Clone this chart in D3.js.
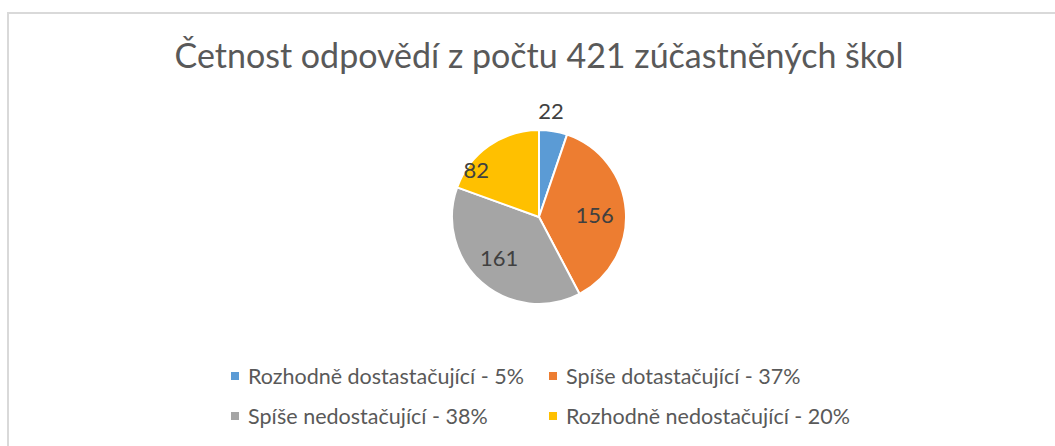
<!DOCTYPE html>
<html>
<head>
<meta charset="utf-8">
<script src="https://cdn.jsdelivr.net/npm/d3@7"></script>
<style>
  body { margin: 0; background: #fff; }
  svg { display: block; font-family: Lato, 'Open Sans', sans-serif; }
</style>
</head>
<body>
<svg></svg>
<script>
// chart data
const title = 'Četnost odpovědí z počtu 421 zúčastněných škol'
const categories = ['Rozhodně dostastačující', 'Spíše dotastačující', 'Spíše nedostačující', 'Rozhodně nedostačující']
const counts = [22, 156, 161, 82]
const percents = ['5%', '37%', '38%', '20%']
const colors = ['#5b9bd5', '#ed7d31', '#a5a5a5', '#ffc000']

const width = 1055
const height = 446
const cx = 539
const cy = 217
const radius = 87

const svg = d3.select('svg')
  .attr('width', width)
  .attr('height', height)

// chart area border (only top and left visible)
svg.append('rect')
  .attr('x', 8)
  .attr('y', 13)
  .attr('width', width + 20)
  .attr('height', height + 20)
  .attr('fill', '#fff')
  .attr('stroke', '#d9d9d9')
  .attr('stroke-width', 2)

svg.append('text')
  .attr('x', cx)
  .attr('y', 68)
  .attr('text-anchor', 'middle')
  .attr('font-size', 34)
  .attr('fill', '#595959')
  .text(title)

const pie = d3.pie().sort(null).value(d => d)
const arcs = pie(counts)
const arc = d3.arc().innerRadius(0).outerRadius(radius)

const g = svg.append('g')
  .attr('transform', 'translate(' + cx + ',' + cy + ')')

g.selectAll('path')
  .data(arcs)
  .enter()
  .append('path')
  .attr('d', arc)
  .attr('fill', (d, i) => colors[i])
  .attr('stroke', '#fff')
  .attr('stroke-width', 2)
  .attr('stroke-linejoin', 'round')

// label placement (roughly like excel "best fit")
const labelRadius = [1.22, 0.64, 0.66, 0.9]
const labelShift = [-0.05, 0.04, 0.05, -0.32] // radians

g.selectAll('text.lbl')
  .data(arcs)
  .enter()
  .append('text')
  .attr('class', 'lbl')
  .attr('x', (d, i) => Math.sin((d.startAngle + d.endAngle) / 2 + labelShift[i]) * radius * labelRadius[i])
  .attr('y', (d, i) => -Math.cos((d.startAngle + d.endAngle) / 2 + labelShift[i]) * radius * labelRadius[i])
  .attr('dy', '0.35em')
  .attr('text-anchor', 'middle')
  .attr('font-size', 22)
  .attr('fill', '#404040')
  .text(d => d.data)

// legend
const legendX = [231, 549]
const legendY = [376, 416]
const legend = svg.selectAll('g.legend')
  .data(categories)
  .enter()
  .append('g')
  .attr('class', 'legend')
  .attr('transform', (d, i) => 'translate(' + legendX[i % 2] + ',' + legendY[Math.floor(i / 2)] + ')')

legend.append('rect')
  .attr('x', 0)
  .attr('y', -4)
  .attr('width', 8)
  .attr('height', 8)
  .attr('fill', (d, i) => colors[i])

legend.append('text')
  .attr('x', 17)
  .attr('y', 0)
  .attr('dy', '0.35em')
  .attr('font-size', 21.5)
  .attr('fill', '#595959')
  .text((d, i) => d + ' - ' + percents[i])
</script>
</body>
</html>
